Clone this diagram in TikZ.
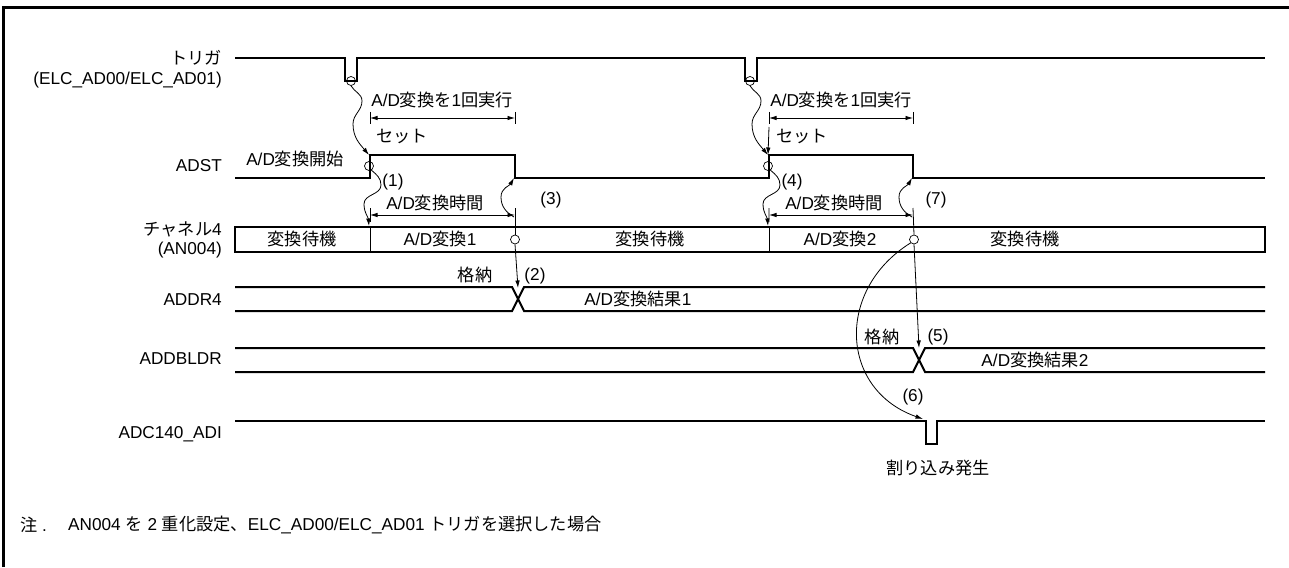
\documentclass[tikz,border=0pt]{standalone}
\usepackage{fontspec}
\setmainfont{Liberation Sans}
\newfontfamily\jp{Noto Sans CJK JP}
\usetikzlibrary{arrows.meta}
\newcommand\J[1]{{\jp #1}}
\begin{document}
\begin{tikzpicture}[x=1pt,y=-1pt,
  sig/.style={line width=2pt, line join=miter},
  thinl/.style={line width=0.8pt},
  arr/.style={thinl,-{Latex[length=7.5pt,width=4.5pt]}},
  dimline/.style={thinl,{Latex[length=7.5pt,width=4.5pt]}-{Latex[length=7.5pt,width=4.5pt]}},
  lab/.style={anchor=east,inner sep=0pt,font=\fontsize{17.2}{20.5}\selectfont},
  txt/.style={inner sep=0pt,font=\fontsize{17.2}{20}\selectfont},
  ring/.style={circle,draw,line width=0.7pt,minimum size=9pt,inner sep=0pt},
]
\useasboundingbox (0,0) rectangle (1289,567);
\draw[line width=3pt] (3,567) -- (3,8) -- (1289,8);

% signal labels
\node[lab,align=right] (Ltrig) at (222,69) {\J{トリガ}\\(ELC\_AD00/ELC\_AD01)};
\node[lab] (Ladst) at (222,166) {ADST};
\node[lab,align=right,font=\fontsize{17.2}{18.5}\selectfont] (Lch) at (222,240) {\J{チャネル}4\\(AN004)};
\node[lab] (Laddr) at (222,300) {ADDR4};
\node[lab] (Lbldr) at (222,359) {ADDBLDR};
\node[lab] (Ladi) at (222,434) {ADC140\_ADI};

% trigger
\draw[sig] (235,58) -- (345,58) -- (345,81) -- (357,81) -- (357,58) -- (745,58) -- (745,81) -- (757,81) -- (757,58) -- (1265,58);
\node[ring] (c1) at (351,81) {};
\node[ring] (c2) at (750,81) {};

% ADST
\draw[sig] (235,178) -- (370,178) -- (370,155) -- (515,155) -- (515,178) -- (769,178) -- (769,155) -- (913,155) -- (913,178) -- (1265,178);
\coordinate (r1) at (369,155);
\coordinate (r2) at (768,155);
\coordinate (f1) at (514,178);
\coordinate (f2) at (912,178);
\node[txt] (start) at (295,159) {A/D\J{変換開始}};
\node[ring] (a1) at (369,166) {};
\node[ring] (a2) at (768,166) {};

% wavy trigger -> ADST
\draw[arr] (c1.south) to[out=-60,in=90] (362,101) to[out=-90,in=90] (353,124) to[out=-90,in=130] (r1);
\draw[arr] (c2.south) to[out=-60,in=90] (761,101) to[out=-90,in=90] (752,124) to[out=-90,in=130] (r2);

% one-shot dimension
\draw[thinl] (370,112) -- (370,124) (515,112) -- (515,124);
\draw[dimline] (370,118) -- (515,118);
\node[txt] (once1) at (442,100) {A/D\J{変換を}1\J{回実行}};
\node[txt] (set1) at (402,136) {\J{セット}};
\draw[thinl] (769,112) -- (769,124) (913,112) -- (913,124);
\draw[dimline] (769,118) -- (913,118);
\node[txt] (once2) at (841,100) {A/D\J{変換を}1\J{回実行}};
\node[txt] (set2) at (802,136) {\J{セット}};
\coordinate (s2) at (769,127);
\draw[arr] (s2) -- (r2);

% channel box
\draw[sig] (235,227) rectangle (1265,251.5);
\draw[thinl] (370,227) -- (370,251.5) (769,227) -- (769,251.5);
\coordinate (d1) at (369,226);
\coordinate (d2) at (768,226);
\node[txt] at (302,239) {\J{変換待機}};
\node[txt] at (440,239) {A/D\J{変換}1};
\node[txt] at (650,239) {\J{変換待機}};
\node[txt] at (840,239) {A/D\J{変換}2};
\node[txt] at (1025,239) {\J{変換待機}};
\node[ring,fill=white] (b1) at (515,239.5) {};
\node[ring,fill=white] (b2) at (914,239.5) {};

% wavy ADST -> channel
\draw[arr] (a1.-60) to[out=-40,in=90] (381,185) to[out=-90,in=90] (364,204) to[out=-90,in=95] (d1);
\draw[arr] (a2.-60) to[out=-40,in=90] (780,185) to[out=-90,in=90] (763,204) to[out=-90,in=95] (d2);
\node[txt] (n1) at (393,182) {(1)};
\node[txt] (n4) at (792,182) {(4)};

% conversion time dimension
\draw[thinl] (370,208) -- (370,222) (515,208) -- (b1.north);
\draw[dimline] (370,215) -- (515,215);
\node[txt] (ct1) at (435,203) {A/D\J{変換時間}};
\draw[thinl] (769,208) -- (769,222) (913,208) -- (b2.north);
\draw[dimline] (769,215) -- (913,215);
\node[txt] (ct2) at (834,203) {A/D\J{変換時間}};

% wavy channel -> ADST fall
\coordinate (w1) at (514,217);
\coordinate (w2) at (912,217);
\draw[arr] (w1) to[out=150,in=-90] (501,197) to[out=90,in=-120] (f1);
\draw[arr] (w2) to[out=150,in=-90] (899,197) to[out=90,in=-120] (f2);
\node[txt] (n3) at (551,200) {(3)};
\node[txt] (n7) at (936,200) {(7)};

% ADDR4
\draw[sig] (235,287) -- (512,287) -- (524,311) -- (1265,311);
\draw[sig] (235,311) -- (512,311) -- (524,287) -- (1265,287);
\coordinate (x1) at (518,288);
\draw[arr] (b1.south) -- (x1);
\node[txt] (st1) at (475,275) {\J{格納}};
\node[txt] (n2) at (535,276) {(2)};
\node[txt] (res1) at (638,299) {A/D\J{変換結果}1};

% ADDBLDR
\draw[sig] (235,348) -- (913,348) -- (925,372) -- (1265,372);
\draw[sig] (235,372) -- (913,372) -- (925,348) -- (1265,348);
\coordinate (x2) at (919,348);
\draw[arr] (b2.south) -- (x2);
\node[txt] (st2) at (882,337) {\J{格納}};
\node[txt] (n5) at (938,337) {(5)};
\node[txt] (res2) at (1035,360) {A/D\J{変換結果}2};

% ADC140_ADI
\draw[sig] (235,421) -- (926,421) -- (926,444) -- (937,444) -- (937,421) -- (1265,421);
\coordinate (p6) at (923,419);
\draw[arr] (b2.south west) .. controls (835,290) and (840,390) .. (p6);
\node[txt] (n6) at (913,397) {(6)};
\node[txt] (irq) at (938,468) {\J{割り込み発生}};

% note
\node[txt,anchor=west] (note0) at (20,525) {\J{注} .};
\node[txt,anchor=west] (note1) at (68,525) {AN004 \J{を} 2 \J{重化設定、}ELC\_AD00/ELC\_AD01 \J{トリガを選択した場合}};
\end{tikzpicture}
\end{document}
